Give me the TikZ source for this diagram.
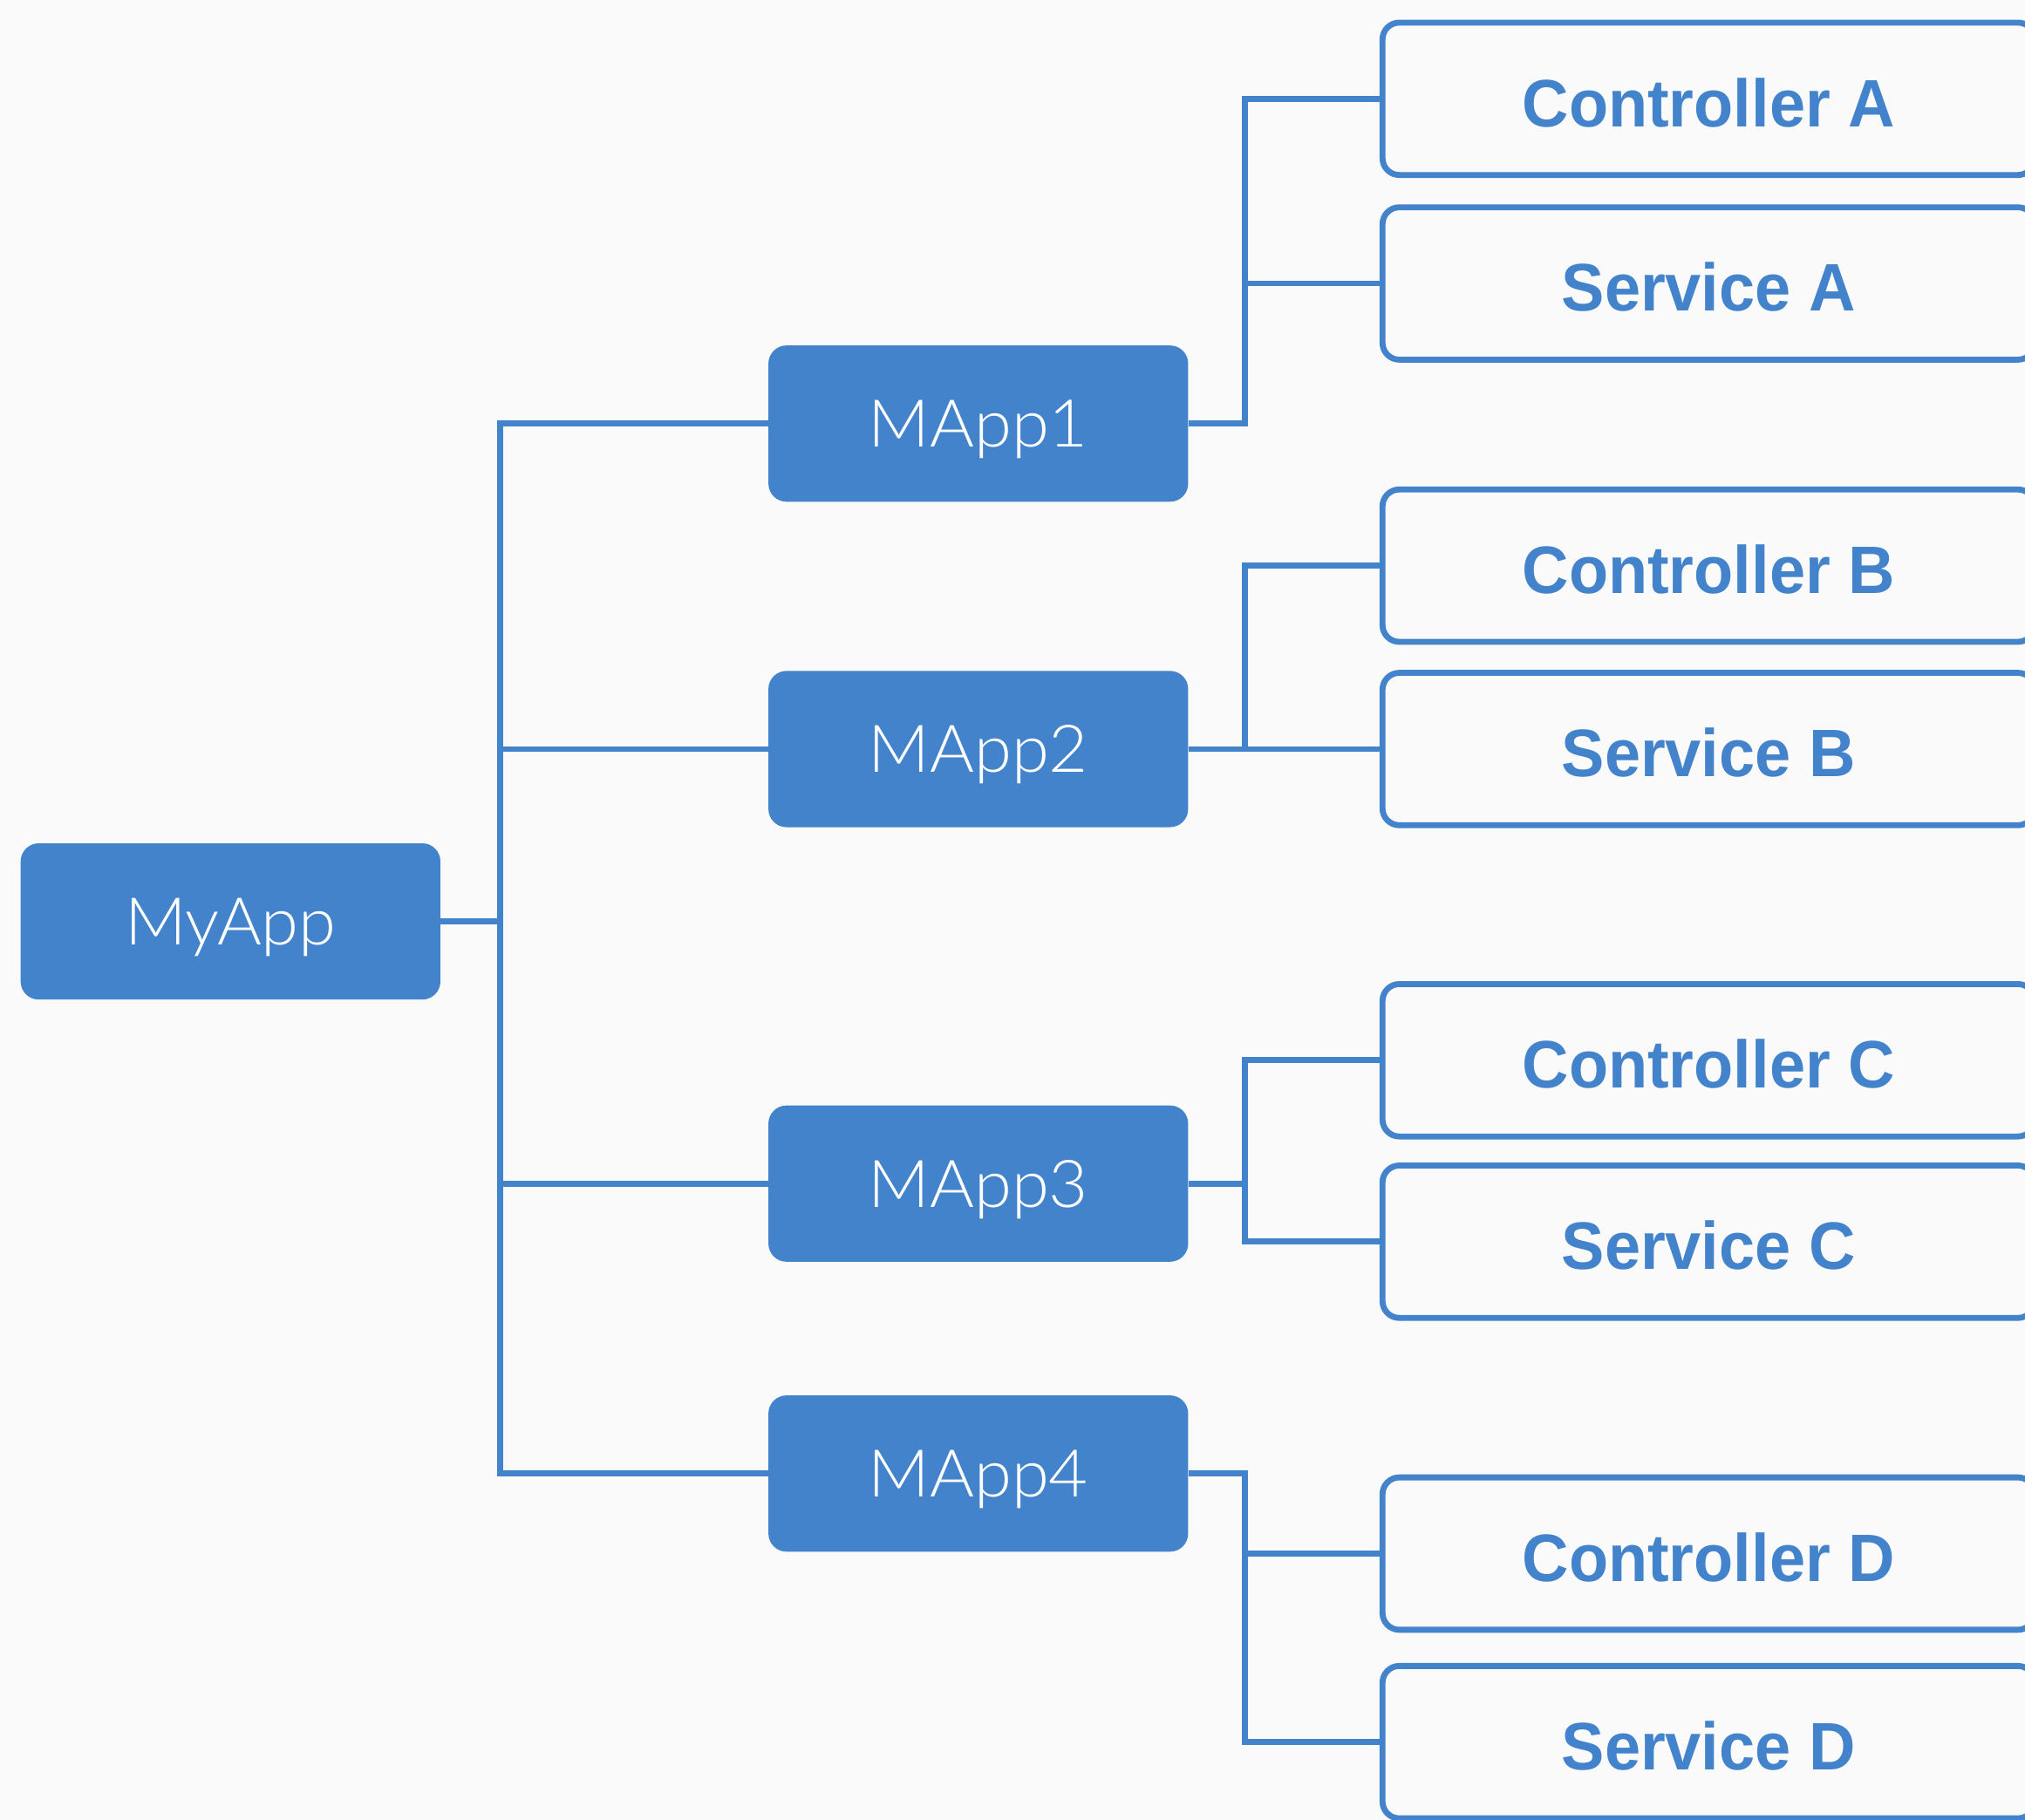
\documentclass[tikz,border=0pt]{standalone}
\usepackage{fontspec}
\setmainfont{Liberation Sans}
\IfFontExistsTF{Lato Light}{\newfontfamily\lightf[FakeStretch=1.03]{Lato Light}}{\newfontfamily\lightf[FakeStretch=1.03]{Lato}}
\newfontfamily\boldf[FakeStretch=0.96]{Liberation Sans}
\definecolor{appblue}{HTML}{4383CC}
\definecolor{bgc}{HTML}{FAFAFA}
\tikzset{
  conn/.style={draw=appblue, line width=4.6pt, line join=miter},
  appbox/.style={rectangle, rounded corners=14pt, fill=appblue, text=white,
    minimum width=325pt, minimum height=121pt, inner sep=0pt,
    text height=36.5pt, text depth=0pt,
    font=\lightf\fontsize{51}{60}\selectfont},
  leafbox/.style={rectangle, rounded corners=13pt, draw=appblue, line width=4.6pt,
    fill=bgc, text=appblue, minimum width=505pt, minimum height=118pt, inner sep=0pt,
    text height=43pt, text depth=0pt,
    font=\boldf\bfseries\fontsize{52}{62}\selectfont}
}
\begin{document}
\begin{tikzpicture}[x=1pt,y=-1pt]
\useasboundingbox (0,0) rectangle (1568,1409);
\fill[bgc] (0,0) rectangle (1568,1409);
\clip (0,0) rectangle (1568,1409);
% app nodes
\node[appbox] (myapp) at (178.5,713.5) {MyApp};
\node[appbox] (m1) at (757.5,328) {MApp1};
\node[appbox] (m2) at (757.5,580) {MApp2};
\node[appbox] (m3) at (757.5,916.5) {MApp3};
\node[appbox] (m4) at (757.5,1141) {MApp4};
% leaf nodes
\node[leafbox] (ca) at (1323,76.5) {Controller A};
\node[leafbox] (sa) at (1323,219.5) {Service A};
\node[leafbox] (cb) at (1323,438) {Controller B};
\node[leafbox] (sb) at (1323,580) {Service B};
\node[leafbox] (cc) at (1323,821) {Controller C};
\node[leafbox] (sc) at (1323,961.5) {Service C};
\node[leafbox] (cd) at (1323,1203) {Controller D};
\node[leafbox] (sd) at (1323,1349) {Service D};
% junction coordinates
\coordinate (t) at (387,713.5);
\coordinate (j) at (964,0);
% trunk
\draw[conn] (myapp.east) -- (t);
\draw[conn] (m1.west) -| (t) |- (m4.west);
\draw[conn] (m2.west) -- (m2.west -| t);
\draw[conn] (m3.west) -- (m3.west -| t);
% branch 1
\draw[conn] (m1.east) -| (j |- ca.west) -- (ca.west);
\draw[conn] (j |- sa.west) -- (sa.west);
% branch 2
\draw[conn] (m2.east) -- (sb.west);
\draw[conn] (j |- sb.west) |- (cb.west);
% branch 3
\draw[conn] (m3.east) -- (j |- m3.east);
\draw[conn] (cc.west) -| (j |- sc.west) -- (sc.west);
% branch 4
\draw[conn] (m4.east) -| (j |- sd.west) -- (sd.west);
\draw[conn] (j |- cd.west) -- (cd.west);
\end{tikzpicture}
\end{document}
